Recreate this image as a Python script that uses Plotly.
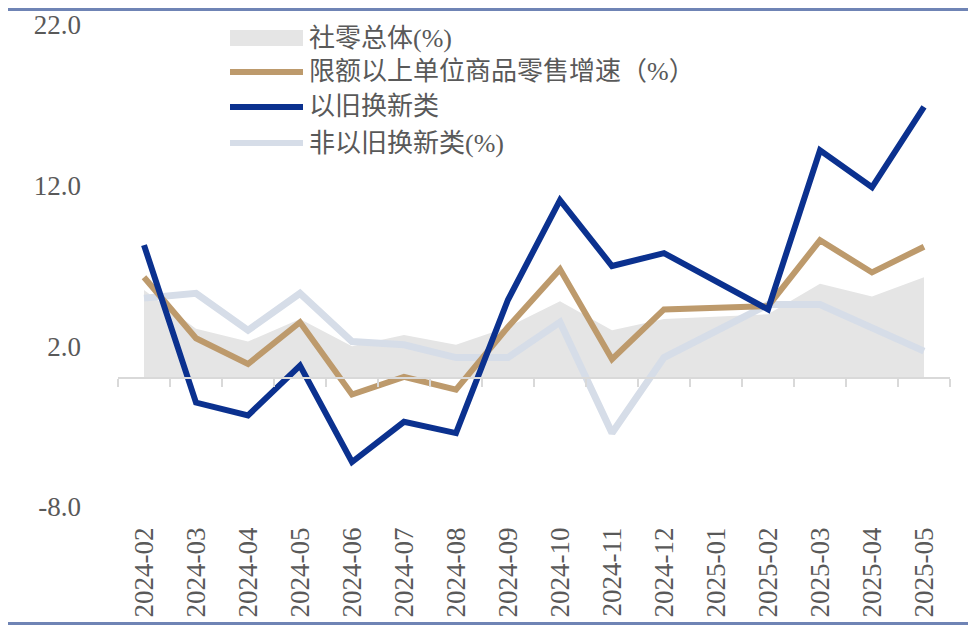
import plotly.graph_objects as go

# monthly categories
months = ["2024-02", "2024-03", "2024-04", "2024-05", "2024-06", "2024-07",
          "2024-08", "2024-09", "2024-10", "2024-11", "2024-12", "2025-01",
          "2025-02", "2025-03", "2025-04", "2025-05"]

# series values (%), 2025-01 has no separate reading
retail_total = [5.5, 3.1, 2.3, 3.7, 2.0, 2.7, 2.1, 3.2, 4.8, 3.0, 3.7, None,
                4.0, 5.9, 5.1, 6.3]
above_quota = [6.3, 2.5, 0.9, 3.5, -1.0, 0.1, -0.7, 3.2, 6.8, 1.2, 4.3, None,
               4.5, 8.6, 6.6, 8.2]
trade_in = [8.3, -1.5, -2.3, 0.8, -5.2, -2.7, -3.4, 4.9, 11.1, 7.0, 7.8, None,
            4.3, 14.2, 11.9, 16.9]
non_trade_in = [5.0, 5.3, 3.0, 5.3, 2.3, 2.1, 1.3, 1.3, 3.5, -3.4, 1.3, None,
                4.6, 4.6, 3.2, 1.7]

y_ticks = [-8, 2, 12, 22]
y_tick_text = [f"{v:.1f}" for v in y_ticks]

names = ["社零总体(%)", "限额以上单位商品零售增速（%）", "以旧换新类", "非以旧换新类(%)"]
colors = ["#e5e5e5", "#bd9a6c", "#0b318f", "#d6dde8"]

SERIF = "Liberation Serif, Noto Sans CJK SC"
GREY_TXT = "#595959"

# the page puts the figure 8px in (body margin), so size it to fit the window
W, H = 968, 617
L, T, PW, PH = 110, 17, 832, 482

fig = go.Figure()

# grey area for overall retail
fig.add_trace(go.Scatter(
    x=months, y=retail_total, name=names[0], mode="lines",
    line=dict(width=0, color=colors[0]), fill="tozeroy", fillcolor=colors[0],
    connectgaps=True,
))
fig.add_trace(go.Scatter(
    x=months, y=non_trade_in, name=names[3], mode="lines",
    line=dict(width=7, color=colors[3]), connectgaps=True,
))
fig.add_trace(go.Scatter(
    x=months, y=above_quota, name=names[1], mode="lines",
    line=dict(width=6, color=colors[1]), connectgaps=True,
))
fig.add_trace(go.Scatter(
    x=months, y=trade_in, name=names[2], mode="lines",
    line=dict(width=6, color=colors[2]), connectgaps=True,
))

n = len(months)
# invisible helper so the zero-line axis gets drawn
fig.add_trace(go.Scatter(
    x=[-0.5, n - 0.5], y=[0, 0], xaxis="x2", mode="lines",
    line=dict(width=0, color="rgba(0,0,0,0)"), hoverinfo="skip",
))

y_min, y_max = y_ticks[0], y_ticks[-1]

fig.update_layout(
    width=W, height=H,
    margin=dict(l=L, r=W - L - PW, t=T, b=H - T - PH),
    paper_bgcolor="white", plot_bgcolor="white",
    showlegend=False,
    xaxis=dict(
        type="category", categoryorder="array", categoryarray=months,
        range=[-0.5, n - 0.5], tickangle=-90,
        tickfont=dict(family=SERIF, size=27, color=GREY_TXT),
        showgrid=False, showline=False, zeroline=False, ticks="",
        ticklabelstandoff=14, automargin=False,
    ),
    # axis line drawn at y = 0 with boundary ticks
    xaxis2=dict(
        overlaying="x", anchor="free", position=(0 - y_min) / (y_max - y_min),
        range=[-0.5, n - 0.5], tickvals=[i - 0.5 for i in range(n + 1)],
        showticklabels=False, showgrid=False, zeroline=False,
        showline=True, linecolor="#d9d9d9", linewidth=2,
        ticks="outside", ticklen=8, tickwidth=2, tickcolor="#d9d9d9",
        automargin=False,
    ),
    yaxis=dict(
        range=[y_min, y_max], tickvals=y_ticks, ticktext=y_tick_text,
        tickfont=dict(family=SERIF, size=27, color=GREY_TXT),
        showgrid=False, zeroline=False, showline=False,
        ticklabelstandoff=36, automargin=False,
    ),
)


def px_x(sx):
    """screen x pixel -> paper x"""
    return (sx - 8 - L) / PW


def px_y(sy):
    """screen y pixel -> paper y"""
    return (T + PH - (sy - 8)) / PH


# custom legend (wide swatches like the original)
sw_x0, sw_x1, txt_x = px_x(230), px_x(303), px_x(307)
legend_rows = [38, 72, 107, 143]
for row_py, idx in zip(legend_rows, range(len(names))):
    yc = px_y(row_py)
    if idx == 0:
        fig.add_shape(type="rect", xref="paper", yref="paper",
                      x0=sw_x0, x1=sw_x1, y0=yc - 8 / PH, y1=yc + 8 / PH,
                      fillcolor=colors[0], line=dict(width=0))
    else:
        fig.add_shape(type="line", xref="paper", yref="paper",
                      x0=sw_x0, x1=sw_x1, y0=yc, y1=yc,
                      line=dict(color=colors[idx], width=6))
    fig.add_annotation(x=txt_x, y=yc, xref="paper", yref="paper",
                       text=names[idx], showarrow=False, xanchor="left",
                       yanchor="middle",
                       font=dict(family=SERIF, size=26, color=GREY_TXT))

# blue frame lines at top and bottom of the picture
for sy in (9.5, 623.5):
    yy = px_y(sy)
    fig.add_shape(type="line", xref="paper", yref="paper",
                  x0=px_x(8), x1=px_x(976), y0=yy, y1=yy,
                  line=dict(color="#6f84b5", width=3))

fig.write_html("out.html")
